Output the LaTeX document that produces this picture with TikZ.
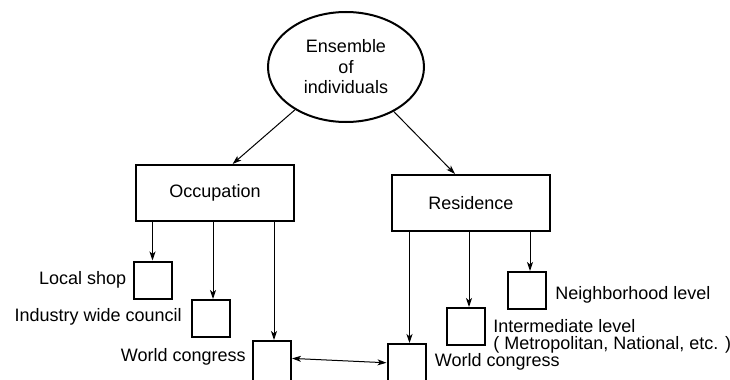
\documentclass[tikz,border=0pt]{standalone}
\usepackage{fontspec}
\setmainfont{Liberation Sans}
\usetikzlibrary{arrows.meta,calc,shapes.geometric}
\begin{document}
\begin{tikzpicture}[x=0.5pt,y=-0.5pt,
  every node/.style={font=\fontsize{9}{10.25}\selectfont},
  ensnode/.style={ellipse,draw,line width=1pt,minimum width=78pt,minimum height=55pt,inner sep=0pt,align=center},
  bigbox/.style={draw,line width=1pt,minimum width=79pt,minimum height=28pt,inner sep=0pt},
  smallbox/.style={draw,line width=1pt,minimum width=19pt,minimum height=18.5pt,inner sep=0pt},
  tallbox/.style={draw,line width=1pt,minimum width=19pt,minimum height=22pt,inner sep=0pt,anchor=north},
  lbl/.style={inner sep=0pt},
  tip/.style={Stealth[length=4.5pt,width=3pt,inset=1.2pt]},
  conn/.style={line width=0.5pt,-{Stealth[length=4.5pt,width=3pt,inset=1.2pt]}},
  dconn/.style={line width=0.5pt,{Stealth[length=4.5pt,width=3pt,inset=1.2pt]}-{Stealth[length=4.5pt,width=3pt,inset=1.2pt]}}]
\useasboundingbox (0,0) rectangle (730,380);
\clip (0,0) rectangle (730,380);

\node[ensnode] (ens) at (346,67) {Ensemble\\of\\individuals};
\node[bigbox] (occ) at (215,193) {Occupation};
\node[bigbox] (res) at (471,203) {Residence};

\node[smallbox] (ls) at (152.5,280) {};
\node[smallbox] (iw) at (211,318.5) {};
\node[tallbox] (wcl) at (272,340) {};
\node[smallbox] (nb) at (527,290.5) {};
\node[smallbox] (im) at (466,326.5) {};
\node[tallbox] (wcr) at (406.5,343) {};

\node[lbl,anchor=east] (lsl) at ($(ls.west)+(-6,0)$) {Local shop};
\node[lbl,anchor=east] (iwl) at ($(iw.west)+(-9,-1.5)$) {Industry wide council};
\node[lbl,anchor=east] (wcll) at ($(wcl.north west)+(-6,17)$) {World congress};
\node[lbl,anchor=west] (nbl) at ($(nb.east)+(8,4.5)$) {Neighborhood level};
\node[lbl,anchor=west,align=left,font=\fontsize{9}{8.5}\selectfont] (iml) at ($(im.east)+(7,10)$) {Intermediate level\\( Metropolitan, National, etc. )};
\node[lbl,anchor=west] (wcrl) at ($(wcr.north east)+(8,19)$) {World congress};

\draw[conn] (ens.220) -- ($(occ.north west)!0.61!(occ.north east)$);
\draw[conn] (ens.317) -- ($(res.north west)!0.40!(res.north east)$);

\draw[conn] (ls.north |- occ.south) -- (ls.north);
\draw[conn] ([xshift=1pt]iw.north |- occ.south) -- ([xshift=1pt]iw.north);
\draw[conn] ([xshift=1pt]wcl.north |- occ.south) -- ([xshift=1pt]wcl.north);

\draw[conn] ([xshift=1.5pt]wcr.north |- res.south) -- ([xshift=1.5pt]wcr.north);
\draw[conn] ([xshift=1.5pt]im.north |- res.south) -- ([xshift=1.5pt]im.north);
\draw[conn] ([xshift=1.5pt]nb.north |- res.south) -- ([xshift=1.5pt]nb.north);

\draw[dconn] ($(wcl.north east)!0.4!(wcl.south east)$) -- ($(wcr.north west)!0.43!(wcr.south west)$);
\end{tikzpicture}
\end{document}
